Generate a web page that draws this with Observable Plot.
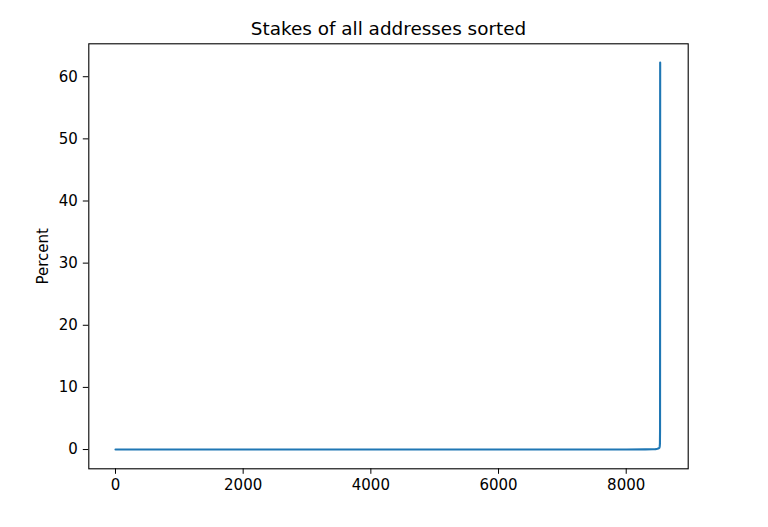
<!DOCTYPE html>
<html>
<head>
<meta charset="utf-8">
<script src="https://cdn.jsdelivr.net/npm/d3@7"></script>
<script src="https://cdn.jsdelivr.net/npm/@observablehq/plot@0.6"></script>
<style>
  html, body { margin: 0; padding: 0; background: #fff; }
  #chart svg { display: block; }
</style>
</head>
<body>
<div id="chart"></div>
<script>
const title = "Stakes of all addresses sorted";
const yLabel = "Percent";
const addressIndex = [0, 1000, 2000, 3000, 4000, 5000, 6000, 7000, 8000, 8300, 8420, 8460, 8490, 8510, 8520, 8525, 8528, 8530, 8532];
const stakePercent = [0, 0.0001, 0.0002, 0.0004, 0.0006, 0.001, 0.002, 0.004, 0.01, 0.02, 0.04, 0.07, 0.12, 0.2, 0.3, 0.5, 0.9, 3, 62.3];
const xTicks = [0, 2000, 4000, 6000, 8000];
const yTicks = [0, 10, 20, 30, 40, 50, 60];

const data = addressIndex.map((x, i) => ({x, y: stakePercent[i]}));

const chart = Plot.plot({
  width: 768,
  height: 527,
  marginLeft: 88.3,
  marginRight: 80.3,
  marginTop: 43.3,
  marginBottom: 58.7,
  style: {fontFamily: "DejaVu Sans", fontSize: "15px", background: "#fff", color: "#000"},
  x: {domain: [-418, 8971], ticks: xTicks, tickSize: 5.5, tickPadding: 5.5, label: null, tickFormat: d => String(d)},
  y: {domain: [-3.1, 65.3], ticks: yTicks, tickSize: 5.5, tickPadding: 5.5, label: null, tickFormat: d => String(d)},
  marks: [
    Plot.frame({stroke: "#000", strokeWidth: 1.1}),
    Plot.line(data, {x: "x", y: "y", stroke: "#1f77b4", strokeWidth: 2.1}),
    Plot.text([title], {frameAnchor: "top", dy: -15, fontSize: 18.4, fill: "#000", textAnchor: "middle", lineAnchor: "middle"}),
    Plot.text([yLabel], {frameAnchor: "left", dx: -45.5, rotate: -90, fontSize: 15, fill: "#000", textAnchor: "middle", lineAnchor: "middle"})
  ]
});
document.getElementById("chart").appendChild(chart);
</script>
</body>
</html>
